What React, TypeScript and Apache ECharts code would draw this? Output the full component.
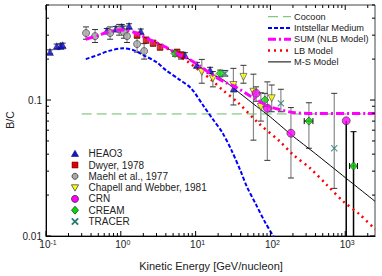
import React, { useEffect, useRef } from 'react';
import * as echarts from 'echarts';

const FONT = '"Liberation Sans", Arial, Helvetica, sans-serif';
const X_MIN = 0.1;
const X_MAX = 2500;
const Y_MIN = 0.01;
const Y_MAX = 0.5;

// ---- axis ticks ----
const xTickMajor = [0.1, 1, 10, 100, 1000];
const xTickExponents = ['-1', '0', '1', '2', '3'];
const xTickMinor = [0.2, 0.3, 0.4, 0.5, 0.6, 0.7, 0.8, 0.9, 2, 3, 4, 5, 6, 7, 8, 9, 20, 30, 40, 50, 60, 70, 80, 90, 200, 300, 400, 500, 600, 700, 800, 900, 2000];
const yTickMajor = [0.01, 0.1];
const yTickLabels = ['0.01', '0.1'];
const yTickMinor = [0.02, 0.03, 0.04, 0.05, 0.06, 0.07, 0.08, 0.09, 0.2, 0.3, 0.4, 0.5];

// ---- model curves ----
const cocoonE = [0.3, 2500];
const cocoonV = [0.079, 0.079];

const ismE = [0.34, 0.5, 0.7, 1.07, 1.5, 2, 3, 4, 6, 8.7, 13, 17.3, 22.6, 30, 40, 48.4, 65, 85, 110, 130];
const ismV = [0.2, 0.215, 0.23, 0.24, 0.232, 0.214, 0.19, 0.166, 0.142, 0.122, 0.089, 0.0713, 0.058, 0.043, 0.03, 0.0231, 0.0168, 0.0126, 0.0099, 0.0083];

const sumE = [0.34, 0.5, 0.65, 1.0, 1.5, 2.46, 4, 5.6, 8.4, 11.5, 17, 25, 35, 53.6, 73, 100, 135, 200, 400, 2500];
const sumV = [0.28, 0.298, 0.315, 0.328, 0.315, 0.277, 0.245, 0.22, 0.198, 0.177, 0.152, 0.135, 0.124, 0.107, 0.097, 0.089, 0.085, 0.081, 0.0795, 0.0795];

const lbE = [3, 5, 8, 12, 16, 22.4, 37.4, 68.5, 135, 203, 340, 569, 948, 1585, 2500];
const lbV = [0.265, 0.225, 0.19, 0.16, 0.142, 0.12, 0.095, 0.068, 0.0494, 0.0394, 0.0315, 0.0237, 0.0179, 0.0143, 0.0112];

const msE = [2, 3, 5, 8.4, 12, 16, 23.6, 40, 65, 100, 190, 400, 1000, 2500];
const msV = [0.29, 0.265, 0.228, 0.198, 0.172, 0.156, 0.14, 0.111, 0.09, 0.075, 0.0555, 0.0403, 0.0269, 0.018];

// ---- measurements ----
const heao3E = [0.113, 0.139, 0.157, 0.167, 0.65, 0.86, 1.03, 1.29, 1.85, 7.2, 10.4, 15.6, 32.4];
const heao3V = [0.226, 0.249, 0.25, 0.253, 0.323, 0.335, 0.345, 0.35, 0.32, 0.214, 0.181, 0.166, 0.122];
const heao3Lo = [0.218, 0.24, 0.241, 0.244, 0.31, 0.322, 0.331, 0.336, 0.307, 0.205, 0.173, 0.158, 0.115];
const heao3Hi = [0.234, 0.258, 0.259, 0.262, 0.336, 0.348, 0.359, 0.364, 0.333, 0.223, 0.189, 0.174, 0.129];

const dwyerE = [1.65, 2.18, 2.7, 3.35, 5.65, 6.4];
const dwyerV = [0.3, 0.276, 0.262, 0.245, 0.225, 0.214];
const dwyerLo = [0.285, 0.262, 0.249, 0.233, 0.214, 0.2];
const dwyerHi = [0.315, 0.29, 0.275, 0.257, 0.236, 0.226];

const maehlE = [0.343, 0.453, 0.72, 0.95, 1.1, 1.21, 1.65, 2.05];
const maehlV = [0.311, 0.295, 0.311, 0.33, 0.316, 0.295, 0.258, 0.229];
const maehlLo = [0.28, 0.265, 0.28, 0.3, 0.285, 0.265, 0.225, 0.2];
const maehlHi = [0.345, 0.33, 0.345, 0.36, 0.35, 0.33, 0.29, 0.26];

const chapellE = [12.1, 17, 32, 43.6, 59.3, 74.5, 104];
const chapellV = [0.161, 0.144, 0.129, 0.148, 0.115, 0.089, 0.103];
const chapellLo = [0.133, 0.125, 0.092, 0.133, 0.0507, 0.07, 0.082];
const chapellHi = [0.199, 0.162, 0.171, 0.18, 0.155, 0.113, 0.129];

const crnE = [64.4, 91, 188, 1031];
const crnV = [0.112, 0.0869, 0.057, 0.0704];
const crnLo = [0.098, 0.036, 0.0267, 0.01];
const crnHi = [0.125, 0.136, 0.088, 0.0704];

const creamE = [5.3, 21.3, 84.3, 327, 1291];
const creamV = [0.22, 0.157, 0.1, 0.07, 0.0327];
const creamLo = [0.21, 0.148, 0.09, 0.0442, 0.01];
const creamHi = [0.23, 0.166, 0.112, 0.0955, 0.0585];
const creamELo = [5.3, 21.3, 84.3, 283, 1143];
const creamEHi = [5.3, 21.3, 84.3, 370, 1460];

const tracerE = [24.8, 138, 713];
const tracerV = [0.157, 0.0946, 0.0442];
const tracerLo = [0.15, 0.082, 0.0224];
const tracerHi = [0.165, 0.12, 0.112];

const pointLegend = ['HEAO3', 'Dwyer, 1978', 'Maehl et al., 1977', 'Chapell and Webber, 1981', 'CRN', 'CREAM', 'TRACER'];
const lineLegend = ['Cocoon', 'Intstellar Medium', 'SUM (NLB Model)', 'LB Model', 'M-S Model'];

const X_PATH = 'path://M0,1.2L1.2,0L5,3.8L8.8,0L10,1.2L6.2,5L10,8.8L8.8,10L5,6.2L1.2,10L0,8.8L3.8,5Z';

function pairs(a: number[], b: number[]) {
  return a.map((x, i) => [x, b[i]]);
}

function errorSeries(E: number[], v: number[], lo: number[], hi: number[], eLo?: number[], eHi?: number[]) {
  const data = E.map((e, i) => [e, v[i], lo[i], hi[i], eLo ? eLo[i] : e, eHi ? eHi[i] : e]);
  return {
    type: 'custom',
    coordinateSystem: 'cartesian2d',
    silent: true,
    z: 2,
    encode: { x: 0, y: 1 },
    data,
    renderItem: (_p: any, api: any) => {
      const e = api.value(0);
      const val = api.value(1);
      const l = api.value(2);
      const h = api.value(3);
      const el = api.value(4);
      const eh = api.value(5);
      const open = l <= Y_MIN;
      const stroke = open ? '#000' : '#8a8a8a';
      const capStroke = open ? '#000' : '#333';
      const pLo = api.coord([e, Math.max(l, Y_MIN)]);
      const pHi = api.coord([e, h]);
      const children: any[] = [
        { type: 'line', shape: { x1: pLo[0], y1: pLo[1], x2: pHi[0], y2: pHi[1] }, style: { stroke, lineWidth: open ? 1.5 : 1.2 } },
      ];
      if (h > val) children.push({ type: 'line', shape: { x1: pHi[0] - 3, y1: pHi[1], x2: pHi[0] + 3, y2: pHi[1] }, style: { stroke: capStroke, lineWidth: 1 } });
      if (!open && l < val) children.push({ type: 'line', shape: { x1: pLo[0] - 3, y1: pLo[1], x2: pLo[0] + 3, y2: pLo[1] }, style: { stroke: capStroke, lineWidth: 1 } });
      if (eh > el) {
        const a = api.coord([el, val]);
        const b = api.coord([eh, val]);
        children.push({ type: 'line', shape: { x1: a[0], y1: a[1], x2: b[0], y2: b[1] }, style: { stroke: '#000', lineWidth: 1 } });
        children.push({ type: 'line', shape: { x1: a[0], y1: a[1] - 3, x2: a[0], y2: a[1] + 3 }, style: { stroke: '#000', lineWidth: 1 } });
        children.push({ type: 'line', shape: { x1: b[0], y1: b[1] - 3, x2: b[0], y2: b[1] + 3 }, style: { stroke: '#000', lineWidth: 1 } });
      }
      return { type: 'group', children };
    },
  };
}

export default function App() {
  const ref = useRef<HTMLDivElement>(null);
  useEffect(() => {
    if (!ref.current) return;
    const chart = echarts.init(ref.current, undefined, { renderer: 'svg' });

    const xTickData = [
      ...xTickMajor.map((v, i) => [v, Y_MIN, 1, i]),
      ...xTickMinor.map((v) => [v, Y_MIN, 0, -1]),
    ];
    const yTickData = [
      ...yTickMajor.map((v, i) => [X_MIN, v, 1, i]),
      ...yTickMinor.map((v) => [X_MIN, v, 0, -1]),
    ];

    const lineStroke = '#000';
    const leftTextStyle = { fontSize: 10, fontFamily: FONT, fill: '#222' };
    const rightTextStyle = { fontSize: 9.2, fontFamily: FONT, fill: '#222' };

    const leftX = 75;
    const leftTextX = 88.5;
    const leftY0 = 153.7;
    const leftStep = 11.3;
    const markerShapes: any[] = [
      (y: number) => ({ type: 'polygon', shape: { points: [[leftX, y - 3.5], [leftX + 3.6, y + 2.8], [leftX - 3.6, y + 2.8]] }, style: { fill: '#1414d0', stroke: '#000040', lineWidth: 0.5 } }),
      (y: number) => ({ type: 'rect', shape: { x: leftX - 3, y: y - 3, width: 6, height: 6 }, style: { fill: '#e00000', stroke: '#500', lineWidth: 0.5 } }),
      (y: number) => ({ type: 'circle', shape: { cx: leftX, cy: y, r: 3 }, style: { fill: '#a8a8a8', stroke: '#333', lineWidth: 0.8 } }),
      (y: number) => ({ type: 'polygon', shape: { points: [[leftX - 3.6, y - 2.8], [leftX + 3.6, y - 2.8], [leftX, y + 3.5]] }, style: { fill: '#ffff00', stroke: '#444', lineWidth: 0.8 } }),
      (y: number) => ({ type: 'circle', shape: { cx: leftX, cy: y, r: 3.5 }, style: { fill: '#ff00ff', stroke: '#333', lineWidth: 0.8 } }),
      (y: number) => ({ type: 'polygon', shape: { points: [[leftX, y - 4], [leftX + 3.5, y], [leftX, y + 4], [leftX - 3.5, y]] }, style: { fill: '#00dd00', stroke: '#333', lineWidth: 0.8 } }),
      (y: number) => ({ type: 'group', children: [
        { type: 'line', shape: { x1: leftX - 3.2, y1: y - 3.2, x2: leftX + 3.2, y2: y + 3.2 }, style: { stroke: '#2b7a78', lineWidth: 1.8 } },
        { type: 'line', shape: { x1: leftX - 3.2, y1: y + 3.2, x2: leftX + 3.2, y2: y - 3.2 }, style: { stroke: '#2b7a78', lineWidth: 1.8 } },
      ] }),
    ];

    const lineStyles = [
      { stroke: '#66bb66', lineWidth: 1, lineDash: [10, 5] },
      { stroke: '#0000ff', lineWidth: 2, lineDash: [4, 2] },
      { stroke: '#ff00ff', lineWidth: 3, lineDash: [8, 3, 2, 3] },
      { stroke: '#ff0000', lineWidth: 2.5, lineDash: [2, 4] },
      { stroke: '#000', lineWidth: 1 },
    ];
    const rX1 = 268;
    const rX2 = 291;
    const rY0 = 16.7;
    const rStep = 11.3;

    const graphic: any[] = [];
    pointLegend.forEach((name, i) => {
      const y = leftY0 + leftStep * i;
      graphic.push(markerShapes[i](y));
      graphic.push({ type: 'text', x: leftTextX, y, style: { text: name, ...leftTextStyle, textAlign: 'left', textVerticalAlign: 'middle' } });
    });
    lineLegend.forEach((name, i) => {
      const y = rY0 + rStep * i;
      graphic.push({ type: 'line', shape: { x1: rX1, y1: y, x2: rX2, y2: y }, style: lineStyles[i] });
      graphic.push({ type: 'text', x: rX2 + 3, y, style: { text: name, ...rightTextStyle, textAlign: 'left', textVerticalAlign: 'middle' } });
    });
    graphic.push({ type: 'text', x: 211, y: 266, style: { text: 'Kinetic Energy [GeV/nucleon]', fontSize: 11, fontFamily: FONT, fill: '#222', textAlign: 'center', textVerticalAlign: 'middle' } });
    graphic.push({ type: 'text', x: 10, y: 120, rotation: Math.PI / 2, style: { text: 'B/C', fontSize: 10.5, fontFamily: FONT, fill: '#222', textAlign: 'center', textVerticalAlign: 'middle' } });

    const option: any = {
      animation: false,
      grid: { left: 46, right: 7, top: 5, bottom: 40, show: true, borderColor: '#444', borderWidth: 1, backgroundColor: 'transparent' },
      xAxis: {
        type: 'log', logBase: 10, min: X_MIN, max: X_MAX,
        axisLine: { show: true, lineStyle: { color: '#000', width: 1 } },
        axisTick: { show: false }, axisLabel: { show: false }, splitLine: { show: false }, minorTick: { show: false },
      },
      yAxis: {
        type: 'log', logBase: 10, min: Y_MIN, max: Y_MAX,
        axisLine: { show: true, lineStyle: { color: '#000', width: 1 } },
        axisTick: { show: false }, axisLabel: { show: false }, splitLine: { show: false }, minorTick: { show: false },
      },
      graphic,
      series: [
        {
          type: 'custom', coordinateSystem: 'cartesian2d', silent: true, z: 10, encode: { x: 0, y: 1 }, data: xTickData,
          renderItem: (_p: any, api: any) => {
            const v = api.value(0);
            const major = api.value(2) === 1;
            const idx = api.value(3);
            const b = api.coord([v, Y_MIN]);
            const t = api.coord([v, Y_MAX]);
            const len = major ? 5 : 3;
            const children: any[] = [
              { type: 'line', shape: { x1: b[0], y1: b[1], x2: b[0], y2: b[1] - len }, style: { stroke: lineStroke, lineWidth: 1 } },
              { type: 'line', shape: { x1: t[0], y1: t[1], x2: t[0], y2: t[1] + len }, style: { stroke: lineStroke, lineWidth: 1 } },
            ];
            if (major) {
              children.push({
                type: 'text', x: b[0] + 2, y: b[1] + 3,
                style: {
                  text: '{b|10}{s|' + xTickExponents[idx] + '}',
                  textAlign: 'center', textVerticalAlign: 'top',
                  rich: {
                    b: { fontSize: 10, fontFamily: FONT, fill: '#222', verticalAlign: 'bottom' },
                    s: { fontSize: 7, fontFamily: FONT, fill: '#222', verticalAlign: 'top' },
                  },
                },
              });
            }
            return { type: 'group', children };
          },
        },
        {
          type: 'custom', coordinateSystem: 'cartesian2d', silent: true, z: 10, encode: { x: 0, y: 1 }, data: yTickData,
          renderItem: (_p: any, api: any) => {
            const v = api.value(1);
            const major = api.value(2) === 1;
            const idx = api.value(3);
            const l = api.coord([X_MIN, v]);
            const r = api.coord([X_MAX, v]);
            const len = major ? 5 : 3;
            const children: any[] = [
              { type: 'line', shape: { x1: l[0], y1: l[1], x2: l[0] + len, y2: l[1] }, style: { stroke: lineStroke, lineWidth: 1 } },
              { type: 'line', shape: { x1: r[0], y1: r[1], x2: r[0] - len, y2: r[1] }, style: { stroke: lineStroke, lineWidth: 1 } },
            ];
            if (major) {
              children.push({
                type: 'text', x: l[0] - 4, y: l[1],
                style: { text: yTickLabels[idx], fontSize: 10, fontFamily: FONT, fill: '#222', textAlign: 'right', textVerticalAlign: 'middle' },
              });
            }
            return { type: 'group', children };
          },
        },
        errorSeries(heao3E, heao3V, heao3Lo, heao3Hi),
        errorSeries(dwyerE, dwyerV, dwyerLo, dwyerHi),
        errorSeries(maehlE, maehlV, maehlLo, maehlHi),
        errorSeries(chapellE, chapellV, chapellLo, chapellHi),
        errorSeries(crnE, crnV, crnLo, crnHi),
        errorSeries(creamE, creamV, creamLo, creamHi, creamELo, creamEHi),
        errorSeries(tracerE, tracerV, tracerLo, tracerHi),
        { name: 'Cocoon', type: 'line', z: 3, symbol: 'none', data: pairs(cocoonE, cocoonV), lineStyle: { color: '#66bb66', width: 1, type: [10, 5] } },
        { name: 'Intstellar Medium', type: 'line', z: 3, symbol: 'none', smooth: 0.3, data: pairs(ismE, ismV), lineStyle: { color: '#0000ff', width: 2, type: [4, 2] } },
        { name: 'LB Model', type: 'line', z: 3, symbol: 'none', smooth: 0.3, data: pairs(lbE, lbV), lineStyle: { color: '#ff0000', width: 2.5, type: [2, 4] } },
        { name: 'M-S Model', type: 'line', z: 3, symbol: 'none', smooth: 0.2, data: pairs(msE, msV), lineStyle: { color: '#000', width: 1 } },
        { name: 'HEAO3', type: 'scatter', z: 4, symbol: 'triangle', symbolSize: 7, data: pairs(heao3E, heao3V), itemStyle: { color: '#1414d0', borderColor: '#000040', borderWidth: 0.5 } },
        { name: 'Dwyer, 1978', type: 'scatter', z: 4, symbol: 'rect', symbolSize: 6, data: pairs(dwyerE, dwyerV), itemStyle: { color: '#e00000', borderColor: '#500', borderWidth: 0.5 } },
        { name: 'Maehl et al., 1977', type: 'scatter', z: 4, symbol: 'circle', symbolSize: 7, data: pairs(maehlE, maehlV), itemStyle: { color: '#a8a8a8', borderColor: '#333', borderWidth: 0.8 } },
        { name: 'Chapell and Webber, 1981', type: 'scatter', z: 4, symbol: 'triangle', symbolRotate: 180, symbolSize: 7, data: pairs(chapellE, chapellV), itemStyle: { color: '#ffff00', borderColor: '#444', borderWidth: 0.8 } },
        { name: 'CRN', type: 'scatter', z: 4, symbol: 'circle', symbolSize: 8, data: pairs(crnE, crnV), itemStyle: { color: '#ff00ff', borderColor: '#333', borderWidth: 0.8 } },
        { name: 'CREAM', type: 'scatter', z: 4, symbol: 'diamond', symbolSize: 8, data: pairs(creamE, creamV), itemStyle: { color: '#00dd00', borderColor: '#333', borderWidth: 0.8 } },
        { name: 'TRACER', type: 'scatter', z: 4, symbol: X_PATH, symbolSize: 7, data: pairs(tracerE, tracerV), itemStyle: { color: '#2b7a78' } },
        { name: 'SUM (NLB Model)', type: 'line', z: 5, symbol: 'none', smooth: 0.3, data: pairs(sumE, sumV), lineStyle: { color: '#ff00ff', width: 3, type: [8, 3, 2, 3] } },
      ],
    };
    chart.setOption(option);
    return () => chart.dispose();
  }, []);
  return <div ref={ref} style={{ position: 'fixed', left: 0, top: 0, width: 382, height: 276, background: '#fff' }} />;
}
